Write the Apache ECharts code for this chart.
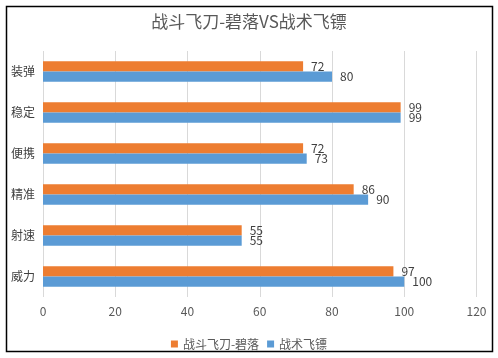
<!DOCTYPE html>
<html><head><meta charset="utf-8">
<script src="https://cdn.jsdelivr.net/npm/echarts@6/dist/echarts.min.js"></script>
<style>html,body{margin:0;padding:0;background:#fff}#c{width:498px;height:358px}</style>
</head><body><div id="c"></div>
<script>
const categories = ['装弹','稳定','便携','精准','射速','威力'];
const seriesNames = ['战斗飞刀-碧落','战术飞镖'];
const knifeValues = [72, 99, 72, 86, 55, 97];
const dartValues = [80, 99, 73, 90, 55, 100];
const xTicks = [0, 20, 40, 60, 80, 100, 120];

const font = '"Noto Sans CJK SC", "Microsoft YaHei", sans-serif';
const chart = echarts.init(document.getElementById('c'), null, {renderer:'canvas'});
const labelCfg = {show:true, position:'right', distance:8, color:'#404040', fontSize:12, fontFamily:font};
chart.setOption({
  backgroundColor:'#fff',
  animation:false,
  title:{text:'战斗飞刀-碧落VS战术飞镖', left:'center', top:8, textStyle:{fontSize:17, fontWeight:'normal', color:'#595959', fontFamily:font}},
  graphic:[{type:'rect', shape:{x:6.5,y:6.5,width:486,height:345}, style:{fill:'none', stroke:'#000', lineWidth:1.5}, silent:true}],
  legend:{data:seriesNames, top:333, left:'center', itemWidth:7, itemHeight:7, itemGap:8, icon:'rect', textStyle:{fontSize:12, color:'#595959', fontFamily:font}},
  grid:{left:43, right:21.5, top:51, bottom:61, containLabel:false},
  xAxis:{type:'value', min:xTicks[0], max:xTicks[xTicks.length-1], interval:20,
    axisLine:{show:false}, axisTick:{show:false},
    axisLabel:{color:'#595959', fontSize:12, fontFamily:font, margin:8},
    splitLine:{lineStyle:{color:'#d9d9d9'}}},
  yAxis:{type:'category', data:categories, inverse:true,
    axisLine:{show:false}, axisTick:{show:false},
    axisLabel:{color:'#404040', fontSize:12, fontFamily:font, margin:8}},
  series:[
    {name:seriesNames[0], type:'bar', data:knifeValues, barWidth:10.3, barGap:'0%', itemStyle:{color:'#ed7d31'}, label:labelCfg},
    {name:seriesNames[1], type:'bar', data:dartValues, barWidth:10.3, barGap:'0%', itemStyle:{color:'#5b9bd5'}, label:labelCfg}
  ]
});
</script></body></html>
